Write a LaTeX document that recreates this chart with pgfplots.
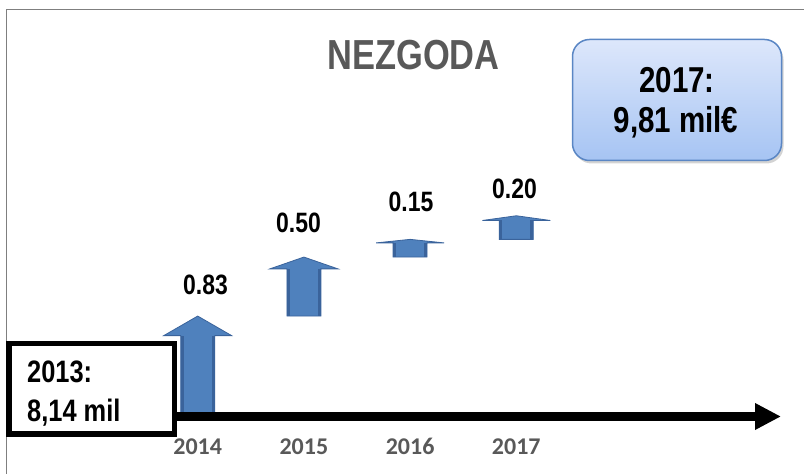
\documentclass[border=0pt]{standalone}
\usepackage{pgfplots}
\pgfplotsset{compat=1.18}
\usepackage{fontspec}
\setmainfont{Liberation Sans}
\newfontfamily\narrow{Liberation Sans}[FakeStretch=0.82]
\newfontfamily\calib{Carlito}
\usetikzlibrary{arrows.meta,shadows}
\definecolor{arrowblue}{HTML}{4F81BD}
\definecolor{arrowdark}{HTML}{3A639B}
\definecolor{titlegray}{HTML}{595959}
\definecolor{framegray}{HTML}{7F7F7F}
\definecolor{boxtop}{HTML}{DDE7FB}
\definecolor{boxbot}{HTML}{A6C4F3}
\definecolor{boxedge}{HTML}{5A86C4}
\begin{document}
\begin{tikzpicture}[x=1pt,y=1pt]
\useasboundingbox (0,0) rectangle (804,474);
% outer frame
\draw[framegray,line width=1.5pt] (6.5,-10) -- (6.5,464.5) -- (820,464.5);
% waterfall: 2013 = 8.14; +0.83 (2014), +0.50 (2015), +0.15 (2016), +0.20 (2017)
\begin{axis}[
  at={(0,0)}, anchor=south west,
  scale only axis, width=804pt, height=474pt,
  xmin=-0.8616, xmax=6.7090, ymin=7.6315, ymax=11.6485,
  axis line style={draw=none}, tick style={draw=none},
  ytick=\empty,
  xtick={1,2,3,4}, xticklabels={2014,2015,2016,2017},
  xticklabel style={font=\calib\bfseries\fontsize{24}{24}\selectfont, text=titlegray, anchor=base, inner sep=0pt, yshift=19pt},
  clip=false,
]
% 2014: 8.14 -> 8.97
\addplot[fill=arrowblue, draw=arrowdark, line width=0.8pt] coordinates {(0.84,8.14)(1.16,8.14)(1.16,8.804)(1.32,8.804)(1,8.97)(0.68,8.804)(0.84,8.804)} -- cycle;
% 2015: 8.97 -> 9.47
\addplot[fill=arrowblue, draw=arrowdark, line width=0.8pt] coordinates {(1.84,8.97)(2.16,8.97)(2.16,9.37)(2.32,9.37)(2,9.47)(1.68,9.37)(1.84,9.37)} -- cycle;
% 2016: 9.47 -> 9.62
\addplot[fill=arrowblue, draw=arrowdark, line width=0.8pt] coordinates {(2.84,9.47)(3.16,9.47)(3.16,9.59)(3.32,9.59)(3,9.62)(2.68,9.59)(2.84,9.59)} -- cycle;
% 2017: 9.62 -> 9.82
\addplot[fill=arrowblue, draw=arrowdark, line width=0.8pt] coordinates {(3.84,9.62)(4.16,9.62)(4.16,9.78)(4.32,9.78)(4,9.82)(3.68,9.78)(3.84,9.78)} -- cycle;
% darker shaft edges
\addplot[fill=arrowdark, draw=none] coordinates {(0.84,8.14)(0.87,8.14)(0.87,8.804)(0.84,8.804)} -- cycle;
\addplot[fill=arrowdark, draw=none] coordinates {(1.13,8.14)(1.16,8.14)(1.16,8.804)(1.13,8.804)} -- cycle;
\addplot[fill=arrowdark, draw=none] coordinates {(1.84,8.97)(1.87,8.97)(1.87,9.37)(1.84,9.37)} -- cycle;
\addplot[fill=arrowdark, draw=none] coordinates {(2.13,8.97)(2.16,8.97)(2.16,9.37)(2.13,9.37)} -- cycle;
\addplot[fill=arrowdark, draw=none] coordinates {(2.84,9.47)(2.87,9.47)(2.87,9.59)(2.84,9.59)} -- cycle;
\addplot[fill=arrowdark, draw=none] coordinates {(3.13,9.47)(3.16,9.47)(3.16,9.59)(3.13,9.59)} -- cycle;
\addplot[fill=arrowdark, draw=none] coordinates {(3.84,9.62)(3.87,9.62)(3.87,9.78)(3.84,9.78)} -- cycle;
\addplot[fill=arrowdark, draw=none] coordinates {(4.13,9.62)(4.16,9.62)(4.16,9.78)(4.13,9.78)} -- cycle;
\end{axis}
% base axis arrow
\draw[line width=9pt, -{Triangle[length=26pt,width=25pt]}] (177,57.5) -- (781,57.5);
% title
\node[anchor=base, font=\narrow\bfseries\fontsize{42}{42}\selectfont, text=titlegray, inner sep=0] at (413.5,404) {NEZGODA};
% value labels
\begin{scope}[every node/.style={anchor=base, inner sep=0, font=\narrow\bfseries\fontsize{28}{28}\selectfont}]
\node at (205.5,179) {0.83};
\node at (298.5,241) {0.50};
\node at (411,262) {0.15};
\node at (514.5,275) {0.20};
\end{scope}
% 2013 box
\draw[black, line width=5.5pt, fill=white] (8.75,39.75) rectangle (174.25,130.25);
\node[anchor=base west, inner sep=0, font=\narrow\bfseries\fontsize{31}{31}\selectfont] at (27,91) {2013:};
\node[anchor=base west, inner sep=0, font=\narrow\bfseries\fontsize{31}{31}\selectfont] at (27,52) {8,14 mil};
% 2017 box
\path[rounded corners=17pt, top color=boxtop, bottom color=boxbot, draw=boxedge, line width=1.5pt,
  drop shadow={opacity=0.35, shadow xshift=2pt, shadow yshift=-3pt}]
  (572.5,313.5) rectangle (781.5,434.5);
\node[anchor=base, inner sep=0, font=\narrow\bfseries\fontsize{36}{36}\selectfont] at (677,381) {2017:};
\node[anchor=base, inner sep=0, font=\narrow\bfseries\fontsize{36}{36}\selectfont] at (676,341) {9,81 mil€};
\end{tikzpicture}
\end{document}
